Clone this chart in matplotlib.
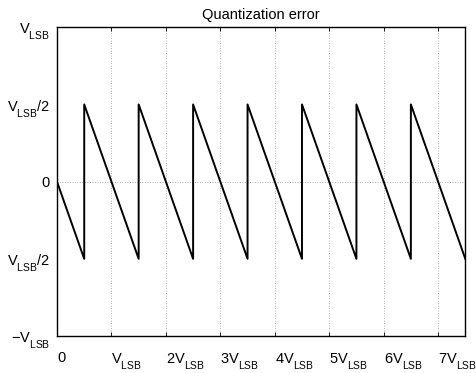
import numpy as np
import matplotlib
matplotlib.use("Agg")
import matplotlib.pyplot as plt
import matplotlib._mathtext as mt

plt.rcParams['font.family'] = ['Liberation Sans', 'DejaVu Sans']
plt.rcParams['mathtext.fontset'] = 'custom'
plt.rcParams['mathtext.rm'] = 'Liberation Sans'
plt.rcParams['mathtext.it'] = 'Liberation Sans'
# drop subscripts a bit lower, like the original labels
mt.FontConstantsBase.sub1 = 0.75

# sawtooth corners (input in V_LSB, error in V_LSB)
x_pts = [0, 0.5, 0.5, 1.5, 1.5, 2.5, 2.5, 3.5, 3.5, 4.5, 4.5, 5.5, 5.5, 6.5, 6.5, 7.5]
err_pts = [0, -0.5, 0.5, -0.5, 0.5, -0.5, 0.5, -0.5, 0.5, -0.5, 0.5, -0.5, 0.5, -0.5, 0.5, -0.5]

x_ticks = [0, 1, 2, 3, 4, 5, 6, 7]
x_labels = ['0', r'$\mathrm{V_{LSB}}$', r'$\mathrm{2V_{LSB}}$', r'$\mathrm{3V_{LSB}}$',
            r'$\mathrm{4V_{LSB}}$', r'$\mathrm{5V_{LSB}}$', r'$\mathrm{6V_{LSB}}$',
            r'$\mathrm{7V_{LSB}}$']
y_ticks = [-1, -0.5, 0, 0.5, 1]
y_labels = [r'$\mathrm{-V_{LSB}}$', r'$\mathrm{V_{LSB}/2}$', '0',
            r'$\mathrm{V_{LSB}/2}$', r'$\mathrm{V_{LSB}}$']

fig = plt.figure(figsize=(4.77, 3.73), dpi=100)
ax = fig.add_axes([0.1195, 0.099, 0.856, 0.828])

ax.plot(x_pts, err_pts, color='black', lw=1.4)

for xv in x_ticks[1:]:
    ax.axvline(xv, color='#999999', lw=0.6, ls=(0, (1, 2)), zorder=0)
ax.axhline(0, color='#999999', lw=0.6, ls=(0, (1, 2)), zorder=0)

ax.set_xlim(0, 7.5)
ax.set_ylim(-1, 1)
ax.set_xticks(x_ticks)
ax.set_xticklabels(x_labels, ha='left')
ax.set_yticks(y_ticks)
ax.set_yticklabels(y_labels)
ax.tick_params(axis='x', direction='in', length=3, width=0.6, top=True,
               labelsize=10.5, pad=11)
ax.tick_params(axis='y', direction='in', length=0, labelsize=10.5, pad=5)
for s in ax.spines.values():
    s.set_linewidth(1.0)

ax.set_title('Quantization error', fontsize=10.5, pad=6)

fig.savefig('out.png', dpi=100)
